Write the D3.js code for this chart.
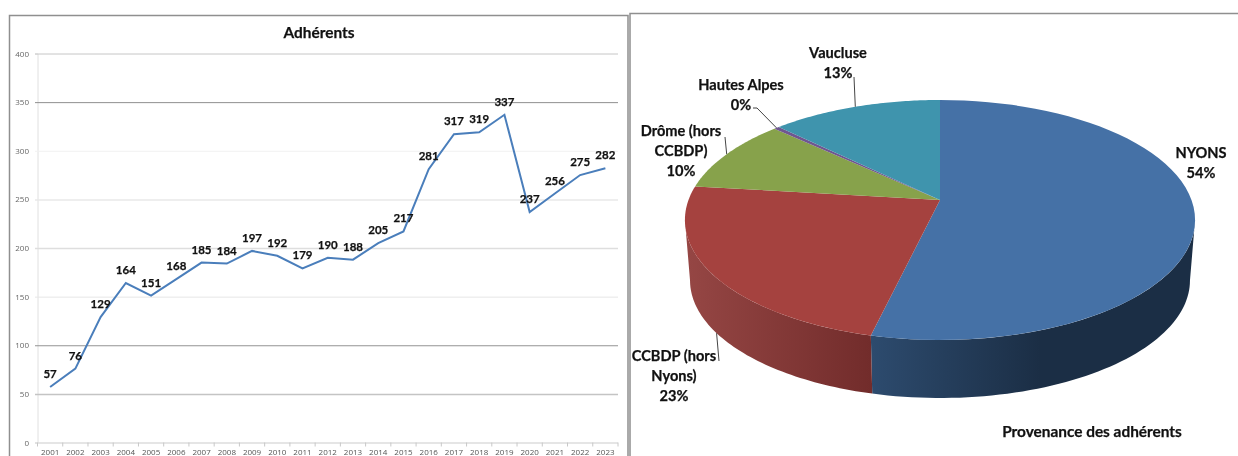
<!DOCTYPE html>
<html>
<head>
<meta charset="utf-8">
<title>Adhérents</title>
<script src="https://cdn.jsdelivr.net/npm/d3@7"></script>
<style>
    html, body { margin: 0; padding: 0; background: #fff; overflow: hidden; }
    /* the source is a soft, rescaled screenshot */
    svg { display: block; font-family: Lato, sans-serif; filter: blur(0.35px); }
    .heavy { font-weight: 700; stroke: #111; stroke-width: 0.25px; }
</style>
</head>
<body>
<div id="chart"></div>
<script>
// Line chart data
const years = ["2001", "2002", "2003", "2004", "2005", "2006", "2007", "2008", "2009", "2010", "2011", "2012",
    "2013", "2014", "2015", "2016", "2017", "2018", "2019", "2020", "2021", "2022", "2023"];
const members = [57, 76, 129, 164, 151, 168, 185, 184, 197, 192, 179, 190, 188, 205, 217, 281, 317, 319, 337, 237, 256, 275, 282];
const yTicks = [0, 50, 100, 150, 200, 250, 300, 350, 400];

// Pie chart data
const origins = [["NYONS"], ["CCBDP (hors", "Nyons)"], ["Drôme (hors", "CCBDP)"], ["Hautes Alpes"], ["Vaucluse"]];
const shares = [53.7, 23.2, 10.0, 0.4, 12.7];
const shareLabels = ["54%", "23%", "10%", "0%", "13%"];

const width = 1238;
const height = 456;

const svg = d3.select("#chart").append("svg")
    .attr("width", width)
    .attr("height", height);

// Panel frames (they run off the bottom of the screenshot)
const frameColor = "#8f8f8f";
svg.append("path")
    .attr("d", "M9.5,456V15.5H628V456")
    .attr("fill", "none").attr("stroke", frameColor).attr("stroke-width", 1.5);
svg.append("path")
    .attr("d", "M630,456V13.5H1238")
    .attr("fill", "none").attr("stroke", frameColor).attr("stroke-width", 1.5);

drawLineChart();
drawPie();

function drawLineChart() {
    const x = d3.scaleBand().domain(years).range([37.5, 618]);
    const y = d3.scaleLinear().domain([0, 400]).range([442.5, 53.5]);

    // Gridlines are unevenly rendered in the source picture, so each gets its own tone
    const gridColor = { 0: "#dcdcdc", 50: "#c4c4c4", 100: "#939393", 150: "#e6e6e6", 200: "#dedede", 250: "#e8e8e8", 300: "#f1f1f1", 350: "#8f8f8f", 400: "#c6c6c6" };
    const gridWidth = { 0: 1.5, 50: 1.5, 100: 1, 150: 1, 200: 1.5, 250: 1.5, 300: 1, 350: 1, 400: 1 };

    const yAxis = svg.append("g")
        .attr("transform", "translate(37.5,0)")
        .call(d3.axisLeft(y).tickValues(yTicks).tickSize(2.5).tickPadding(6));
    yAxis.select(".domain").attr("stroke", "#e0e0e0");
    yAxis.selectAll("text")
        .attr("fill", "#666")
        .style("font-family", "'Open Sans', sans-serif")
        .style("font-size", "8px");
    yAxis.selectAll(".tick line")
        .attr("x2", x.range()[1] - x.range()[0])
        .attr("x1", -2.5)
        .attr("stroke", d => gridColor[d])
        .attr("stroke-width", d => gridWidth[d]);

    const xAxis = svg.append("g")
        .attr("transform", `translate(0,${y(0)})`)
        .call(d3.axisBottom(x).tickSize(0).tickPadding(7));
    xAxis.select(".domain").remove();
    xAxis.selectAll("text")
        .attr("fill", "#555")
        .style("font-family", "'Open Sans', sans-serif")
        .style("font-size", "8px");

    // Tick marks sit between categories
    xAxis.selectAll("line.edge")
        .data(years.concat("end"))
        .enter()
        .append("line")
        .attr("class", "edge")
        .attr("x1", d => d === "end" ? x.range()[1] : x(d))
        .attr("x2", d => d === "end" ? x.range()[1] : x(d))
        .attr("y2", 4)
        .attr("stroke", "#c8c8c8");

    const line = d3.line()
        .x((d, i) => x(years[i]) + x.bandwidth() / 2)
        .y(d => y(d));

    svg.append("path")
        .datum(members)
        .attr("d", line)
        .attr("fill", "none")
        .attr("stroke", "#4a7ebb")
        .attr("stroke-width", 2);

    svg.selectAll("text.value")
        .data(members)
        .enter()
        .append("text")
        .attr("class", "value heavy")
        .attr("x", (d, i) => x(years[i]) + x.bandwidth() / 2)
        .attr("y", d => y(d) - 13)
        .attr("dy", "0.35em")
        .attr("text-anchor", "middle")
        .attr("fill", "#111")
        .style("font-size", "11.5px")
        .text(d => d);

    svg.append("text")
        .attr("class", "heavy")
        .attr("x", 319)
        .attr("y", 33)
        .attr("dy", "0.35em")
        .attr("text-anchor", "middle")
        .attr("fill", "#111")
        .style("font-size", "15.4px")
        .text("Adhérents");
}

function drawPie() {
    // The tilted disc is a circle seen in perspective: the apex is above the ellipse centre
    const tilt = 1 / 6;
    const project = (angle, o) => {
        const u = Math.sin(angle);
        const v = -Math.cos(angle);
        const w = 1 - tilt * v;
        return [o.cx + o.scale * 251.5 * u / w, o.cy + o.scale * 116.67 * v / w];
    };
    const topFace = { cx: 940, cy: 200, scale: 1 };
    const baseFace = { cx: 940, cy: 260.8, scale: 0.98 };

    const arcs = d3.pie().sort(null)(shares);
    const faceColors = ["#4571a6", "#a5423f", "#87a24b", "#6f5690", "#3f94ad"];
    const wallStops = [["#2d4b6e", "#1b2e45"], ["#954644", "#722c2b"]];
    const wallSpan = [[871, 1040], [688, 871]];

    const sample = (a0, a1) => d3.range(0, 61).map(i => a0 + (a1 - a0) * i / 60);
    const outline = d3.line().x(d => d[0]).y(d => d[1]);

    // Only the front of the rim is visible, between the two side tangents
    const rimStart = Math.acos(-tilt);
    const rimEnd = 2 * Math.PI - rimStart;
    const defs = svg.append("defs");

    arcs.forEach((d, i) => {
        const a0 = Math.max(d.startAngle, rimStart);
        const a1 = Math.min(d.endAngle, rimEnd);
        if (a1 <= a0) return;
        const gradient = defs.append("linearGradient")
            .attr("id", "wall" + i)
            .attr("gradientUnits", "userSpaceOnUse")
            .attr("x1", wallSpan[i][0]).attr("x2", wallSpan[i][1])
            .attr("y1", 0).attr("y2", 0);
        gradient.append("stop").attr("offset", 0).attr("stop-color", wallStops[i][0]);
        gradient.append("stop").attr("offset", 1).attr("stop-color", wallStops[i][1]);

        const angles = sample(a0, a1);
        const pts = angles.map(a => project(a, topFace))
            .concat(angles.slice().reverse().map(a => project(a, baseFace)));
        svg.append("path")
            .attr("d", outline(pts) + "Z")
            .attr("fill", `url(#wall${i})`);
    });

    svg.selectAll("path.slice")
        .data(arcs)
        .enter()
        .append("path")
        .attr("class", "slice")
        .attr("d", d => outline([[topFace.cx, topFace.cy]].concat(sample(d.startAngle, d.endAngle).map(a => project(a, topFace)))) + "Z")
        .attr("fill", (d, i) => faceColors[i]);

    // Label blocks, centred; leaders run from the label to the middle of the slice rim
    const labelAt = [[1201, 153], [674, 356], [681, 131], [741, 85], [838, 53]];
    const leaderFrom = [null, [719, 361], [725, 137], [753, 108], [854, 77]];
    const lineGap = 20;

    arcs.forEach((d, i) => {
        const from = leaderFrom[i];
        if (from) {
            const mid = (d.startAngle + d.endAngle) / 2;
            // the CCBDP leader stops at the lower edge of the wall
            const end = project(mid, i === 1 ? baseFace : topFace);
            const path = i === 3
                ? [from, [from[0] + 4, from[1]], end]
                : [from, end];
            svg.append("path")
                .attr("d", outline(path))
                .attr("fill", "none")
                .attr("stroke", "#444")
                .attr("stroke-width", 1);
        }
        const rows = origins[i].concat(shareLabels[i]);
        svg.append("g").selectAll("text")
            .data(rows)
            .enter()
            .append("text")
            .attr("class", "heavy")
            .attr("x", labelAt[i][0])
            .attr("y", (t, j) => labelAt[i][1] + j * lineGap)
            .attr("dy", "0.35em")
            .attr("text-anchor", "middle")
            .attr("fill", "#111")
            .style("font-size", "14.6px")
            .text(t => t);
    });

    svg.append("text")
        .attr("class", "heavy")
        .attr("x", 1092)
        .attr("y", 432)
        .attr("dy", "0.35em")
        .attr("text-anchor", "middle")
        .attr("fill", "#111")
        .style("font-size", "15.4px")
        .text("Provenance des adhérents");
}
</script>
</body>
</html>
